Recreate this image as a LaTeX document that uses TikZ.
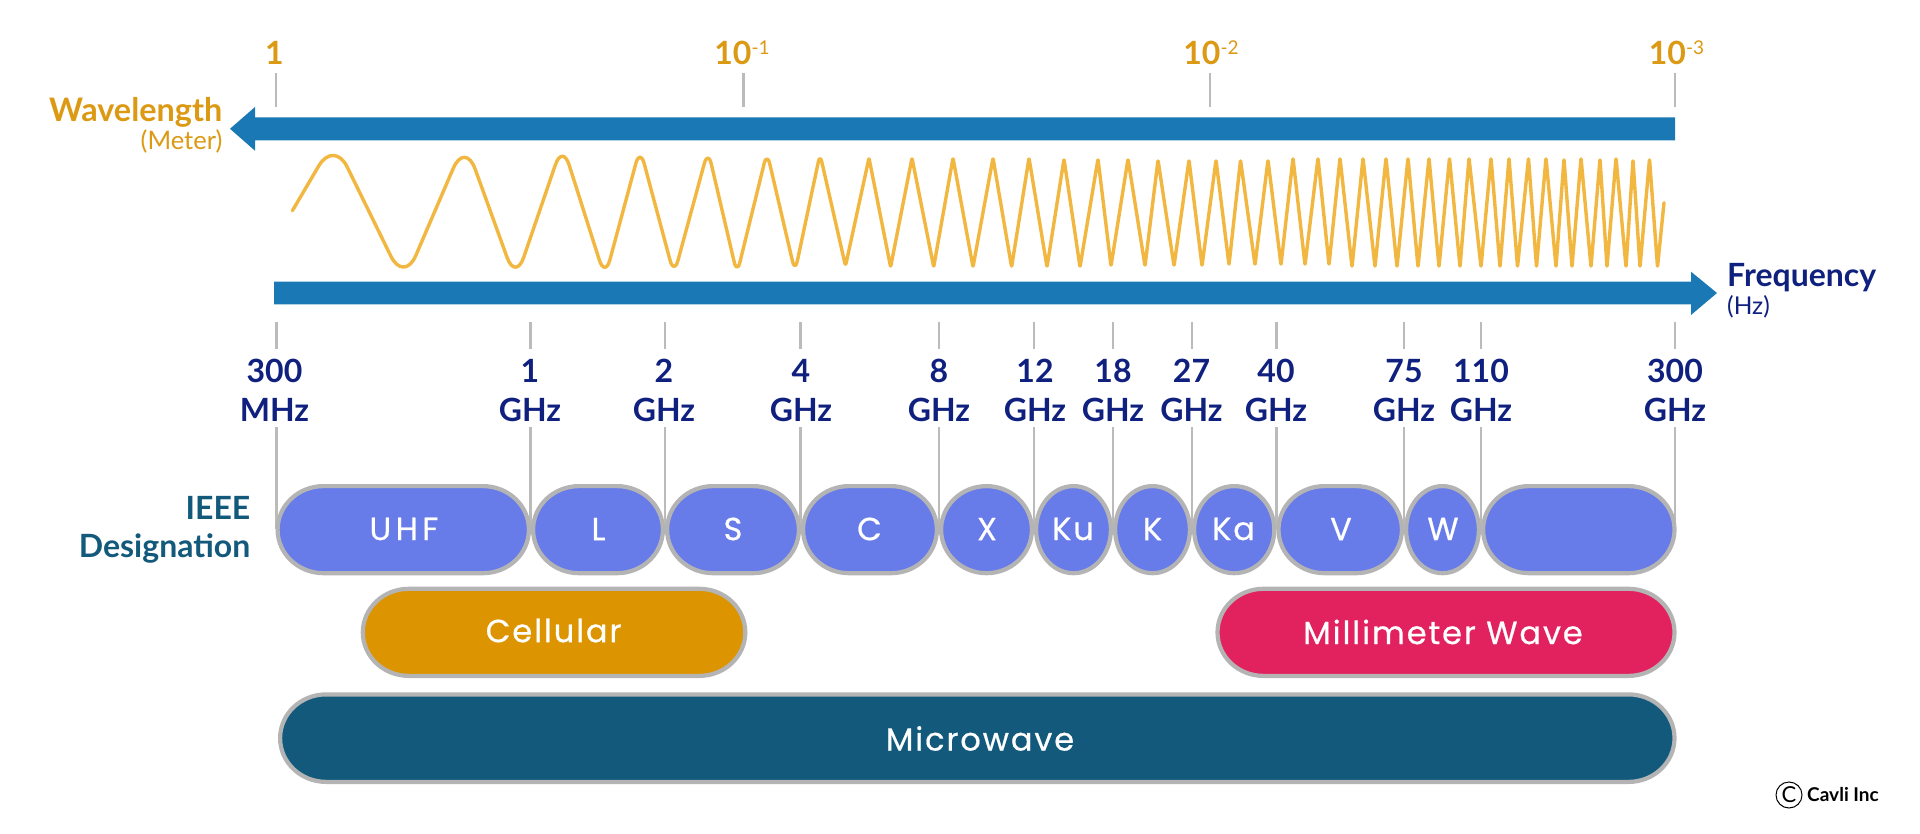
\documentclass[tikz,border=0pt]{standalone}
\usepackage{fontspec}
\setmainfont{Lato}
\newfontfamily\pillfont[LetterSpace=6,FakeBold=0.6]{Poppins}
\newfontfamily\pillfontnarrow[LetterSpace=14,FakeBold=0.6]{Poppins}
\definecolor{barblue}{HTML}{1A78B4}
\definecolor{orangetext}{HTML}{DC9A14}
\definecolor{navytext}{HTML}{10207F}
\definecolor{tealtext}{HTML}{12597C}
\definecolor{wavecol}{HTML}{F2B740}
\definecolor{tickgray}{HTML}{BBBBBB}
\definecolor{edgegray}{HTML}{B4B4B4}
\definecolor{bandblue}{HTML}{677BE9}
\definecolor{cellorange}{HTML}{DC9400}
\definecolor{mmred}{HTML}{E2215F}
\definecolor{microteal}{HTML}{12597C}
\tikzset{
  bararrow/.style={fill=barblue,draw=none},
  tickline/.style={draw=tickgray,line width=2.8pt},
  wavepath/.style={draw=wavecol,line width=3.4pt,line join=round,line cap=round},
  freqlabel/.style={text=navytext,font=\fontsize{32}{32}\selectfont\bfseries,anchor=base,inner sep=0pt},
  wavelabel/.style={text=orangetext,font=\fontsize{32}{32}\selectfont\bfseries,anchor=base,inner sep=0pt},
  pilltext/.style={text=white,font=\fontsize{32}{32}\pillfont,anchor=center,inner sep=0pt},
  pilledge/.style={draw=edgegray,line width=4.2pt}
}
\newcommand{\supnum}[1]{\raisebox{10pt}{\fontsize{19}{19}\selectfont\mdseries #1}}
% name, x1, x2, y1, y2, fill, text
\newcommand{\pill}[7]{%
  \pgfmathsetmacro\pxa{#2+2.1}\pgfmathsetmacro\pxb{#3-2.1}%
  \pgfmathsetmacro\pya{#4+2.1}\pgfmathsetmacro\pyb{#5-2.1}%
  \pgfmathsetmacro\prx{min(46,(\pxb-\pxa)/2)}\pgfmathsetmacro\pry{(\pyb-\pya)/2}%
  \pgfmathsetmacro\pkx{\prx*0.5523}\pgfmathsetmacro\pky{\pry*0.5523}%
  \pgfmathsetmacro\pcy{(\pya+\pyb)/2}%
  \pgfmathsetmacro\pla{\pxa+\prx}\pgfmathsetmacro\plb{\pxb-\prx}%
  \draw[pilledge,fill=#6] (\pxa,\pcy)
    .. controls (\pxa,\pcy-\pky) and (\pla-\pkx,\pya) .. (\pla,\pya)
    -- (\plb,\pya)
    .. controls (\plb+\pkx,\pya) and (\pxb,\pcy-\pky) .. (\pxb,\pcy)
    .. controls (\pxb,\pcy+\pky) and (\plb+\pkx,\pyb) .. (\plb,\pyb)
    -- (\pla,\pyb)
    .. controls (\pla-\pkx,\pyb) and (\pxa,\pcy+\pky) .. (\pxa,\pcy) -- cycle;
}
\begin{document}
\begin{tikzpicture}[x=1pt,y=-1pt]
\useasboundingbox (0,0) rectangle (1920,834);
\fill[white] (0,0) rectangle (1920,834);

% wavelength ticks and labels
\foreach \n/\x in {wa/276,wb/743.5,wc/1210,wd/1675}{
  \coordinate (\n top) at (\x,73);
  \coordinate (\n bot) at (\x,107);
  \draw[tickline] (\n top) -- (\n bot);
}
\node[wavelabel] (w1) at (274.5,65) {1};
\node[wavelabel] (w2) at (742,65) {10\supnum{-1}};
\node[wavelabel] (w3) at (1211,65) {10\supnum{-2}};
\node[wavelabel] (w4) at (1676.5,65) {10\supnum{-3}};

% arrows
\fill[bararrow] (1675,117.5) -- (255,117.5) -- (255,107) -- (230,128.8) -- (255,150.7) -- (255,140.5) -- (1675,140.5) -- cycle;
\fill[bararrow] (274,281.7) -- (1691,281.7) -- (1691,271.7) -- (1717,293) -- (1691,315) -- (1691,304.3) -- (274,304.3) -- cycle;

\node[anchor=base east,inner sep=0pt,text=orangetext,font=\fontsize{32.4}{32.4}\selectfont\bfseries] (wl) at (222.5,121.7) {Wavelength};
\node[anchor=base east,inner sep=0pt,text=orangetext,font=\fontsize{25.5}{25.5}\selectfont] (wlu) at (222.5,150) {(Meter)};
\node[anchor=base west,inner sep=0pt,text=navytext,font=\fontsize{32}{32}\selectfont\bfseries] (fq) at (1727,286.7) {Frequency};
\node[anchor=base west,inner sep=0pt,text=navytext,font=\fontsize{24.5}{24.5}\selectfont] (fqu) at (1727,315) {(Hz)};

% wave
\draw[wavepath] (292.4,210.7)
 [rounded corners=30pt] -- (334,140) -- (404,283)
 [rounded corners=30pt] -- (465,141)
 [rounded corners=25pt] -- (515.6,281)
 [rounded corners=22pt] -- (562.5,144)
 [rounded corners=19pt] -- (605,278)
 [rounded corners=16pt] -- (640,148)
 [rounded corners=15pt] -- (674,275)
 [rounded corners=14pt] -- (708,150)
 [rounded corners=12pt] -- (737,274) -- (767,152)
 [rounded corners=11pt] -- (795,272)
 [rounded corners=8pt] -- (820,154)
 [rounded corners=3pt] -- (845.5,266)
 [rounded corners=1pt] -- (869,158) -- (890.6,267) -- (912,158) -- (933.7,267) -- (953,158) -- (973,267) -- (993,158) -- (1011.6,267) -- (1029,158) -- (1047,267) -- (1064,159) -- (1080,267) -- (1098,159) -- (1111,266) -- (1128,159) -- (1145,266) -- (1158,160) -- (1174,266) -- (1189,160) -- (1202,266) -- (1216,160) -- (1229,265) -- (1240.5,160) -- (1255,265) -- (1268,160) -- (1281,265) -- (1293,158) -- (1305,265) -- (1318,158) -- (1329,265) -- (1340,158) -- (1352,267) -- (1363,158) -- (1375,267) -- (1386,158) -- (1397,267) -- (1408,158) -- (1418,267) -- (1429,158) -- (1439,267) -- (1449.5,158) -- (1460,267) -- (1469,158) -- (1481,267) -- (1491,158) -- (1500,267) -- (1509,158) -- (1517.5,267) -- (1528.5,158) -- (1536.5,267) -- (1546,158) -- (1556,267) -- (1564,159) -- (1572,267) -- (1581,158) -- (1591,267) -- (1600,159) -- (1607,267) -- (1616,158) -- (1626,267) -- (1633,160) -- (1640,267) -- (1649.5,159) -- (1657.5,267) -- (1664,202.7);

% frequency ticks and labels
\foreach \n/\x in {fa/276.5,fb/530.6,fc/665,fd/800.5,fe/939,ff/1034,fg/1113,fh/1192,fi/1276.4,fj/1404,fk/1481,fl/1675}{
  \coordinate (\n a) at (\x,322);
  \coordinate (\n b) at (\x,349);
  \coordinate (\n c) at (\x,427);
  \coordinate (\n d) at (\x,529);
  \draw[tickline] (\n a) -- (\n b);
  \draw[tickline,line width=2.4pt] (\n c) -- (\n d);
}
\foreach \n/\x/\top/\bot in {a/274.5/300/MHz,b/530/1/GHz,c/664/2/GHz,d/801/4/GHz,e/939/8/GHz,f/1035/12/GHz,g/1113/18/GHz,h/1191.5/27/GHz,i/1276/40/GHz,j/1404/75/GHz,k/1481/110/GHz,l/1675/300/GHz}{
  \node[freqlabel] (num\n) at (\x,382.3) {\top};
  \node[freqlabel] (unit\n) at (\x,421) {\bot};
}

\node[anchor=base east,inner sep=0pt,text=tealtext,font=\fontsize{32}{32}\selectfont\bfseries] (ieee1) at (250.5,519) {IEEE};
\node[anchor=base east,inner sep=0pt,text=tealtext,font=\fontsize{32}{32}\selectfont\bfseries] (ieee2) at (250.5,557.3) {Designation};

% bands
\pill{uhf}{275.5}{531}{484}{575.3}{bandblue}{}
\pill{l}{531}{665}{484}{575.3}{bandblue}{}
\pill{s}{665}{801}{484}{575.3}{bandblue}{}
\pill{c}{801}{939}{484}{575.3}{bandblue}{}
\pill{x}{939}{1034}{484}{575.3}{bandblue}{}
\pill{ku}{1034}{1113}{484}{575.3}{bandblue}{}
\pill{k}{1113}{1192}{484}{575.3}{bandblue}{}
\pill{ka}{1192}{1276.4}{484}{575.3}{bandblue}{}
\pill{v}{1276.4}{1404}{484}{575.3}{bandblue}{}
\pill{w}{1404}{1481}{484}{575.3}{bandblue}{}
\pill{blank}{1481}{1676.6}{484}{575.3}{bandblue}{}
\pill{cell}{360.7}{747.4}{586.7}{678}{cellorange}{}
\pill{mm}{1215.4}{1676.6}{586.7}{678}{mmred}{}
\pill{micro}{278}{1676.6}{692.3}{784}{microteal}{}

\node[pilltext,font=\fontsize{32}{32}\pillfontnarrow] (tuhf) at (404,529) {UHF};
\foreach \n/\x/\t in {tl/598.5/L,ts/733/S,tc/869.5/C,tx/987/X,tku/1073/Ku,tk/1152.6/K,tka/1233.6/Ka,tv/1341/V,tw/1443/W}{
  \node[pilltext] (\n) at (\x,529) {\t};
}
\node[pilltext] (tcell) at (553.6,630.5) {Cellular};
\node[pilltext] (tmm) at (1443,632) {Millimeter Wave};
\node[pilltext] (tmicro) at (980,738.5) {Microwave};

% copyright
\node[draw=black,line width=1pt,circle,minimum size=26pt,inner sep=0pt,text=black,font=\fontsize{22}{22}\selectfont] (copy) at (1789,795) {C};
\node[anchor=base west,inner sep=0pt,text=black,font=\fontsize{19}{19}\selectfont\bfseries] (cavli) at (1807,801.7) {Cavli Inc};
\end{tikzpicture}
\end{document}
